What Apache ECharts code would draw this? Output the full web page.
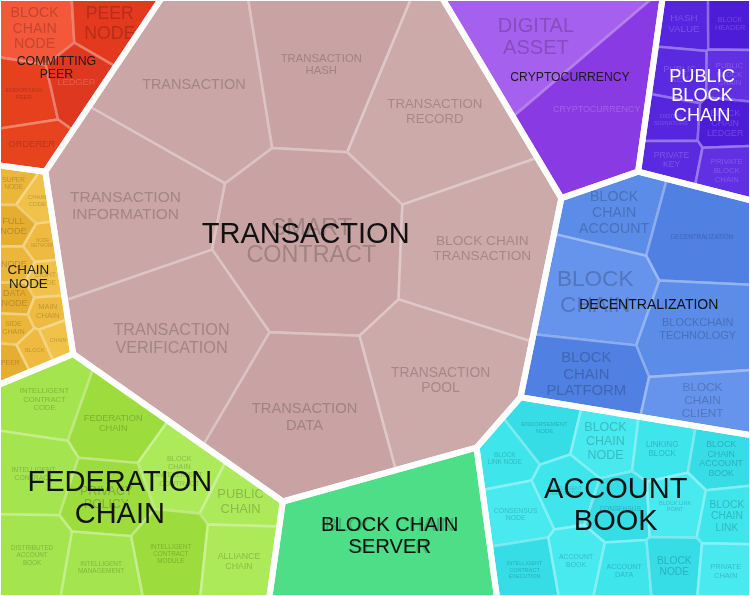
<!DOCTYPE html>
<html><head><meta charset="utf-8">
<script src="https://cdn.jsdelivr.net/npm/echarts/dist/echarts.min.js"></script>
<style>html,body{margin:0;padding:0;background:#fff}#chart{width:750px;height:596px}</style>
</head><body><div id="chart"></div>
<script>
// ---------------- DATA ----------------
const groupNames = ['COMMITTING\nPEER','CRYPTOCURRENCY','PUBLIC\nBLOCK\nCHAIN','CHAIN\nNODE','TRANSACTION','DECENTRALIZATION','FEDERATION\nCHAIN','BLOCK CHAIN\nSERVER','ACCOUNT\nBOOK'];

const committingPeerNames = ['BLOCK\nCHAIN\nNODE','PEER\nNODE','ENDORSING\nPEER','LEDGER','ORDERER'];
const committingPeerValues = [4, 3.5, 3, 3, 2.5];

const cryptocurrencyNames = ['DIGITAL\nASSET','CRYPTOCURRENCY'];
const cryptocurrencyValues = [11, 14];

const publicBlockChainNames = ['HASH\nVALUE','BLOCK\nHEADER','PUBLIC\nKEY','PUBLIC\nBLOCK\nCHAIN','DIGITAL\nSIGNATURE','BLOCK\nCHAIN\nLEDGER','PRIVATE\nKEY','PRIVATE\nBLOCK\nCHAIN'];
const publicBlockChainValues = [2.2, 2, 2.4, 2, 2, 2.2, 2, 2.2];

const chainNodeNames = ['SUPER\nNODE','CHAIN\nCODE','FULL\nNODE','NODE\nNETWORK','NODE','LIGHT\nNODE','DATA\nNODE','MAIN\nCHAIN','SIDE\nCHAIN','CHAIN','PEER','BLOCK'];
const chainNodeValues = [1.0, 1.0, 1.1, 0.9, 1.0, 1.0, 0.9, 0.9, 0.8, 0.8, 0.8, 0.8];

const transactionNames = ['TRANSACTION','TRANSACTION\nHASH','TRANSACTION\nRECORD','TRANSACTION\nINFORMATION','SMART\nCONTRACT','BLOCK CHAIN\nTRANSACTION','TRANSACTION\nVERIFICATION','TRANSACTION\nDATA','TRANSACTION\nPOOL'];
const transactionValues = [19.5, 16, 19.5, 19.5, 25, 18.5, 20.5, 19.5, 17];

const decentralizationNames = ['BLOCK\nCHAIN\nACCOUNT','DECENTRALIZATION','BLOCK\nCHAIN','BLOCKCHAIN\nTECHNOLOGY','BLOCK\nCHAIN\nPLATFORM','BLOCK\nCHAIN\nCLIENT'];
const decentralizationValues = [5.5, 8, 9, 8.5, 7, 5];

const federationChainNames = ['INTELLIGENT\nCONTRACT\nCODE','FEDERATION\nCHAIN','BLOCK\nCHAIN\nINTELLIGENT\nCONTRACT','INTELLIGENT\nCONTRACT','PRIVACY\nPOLICY','PUBLIC\nCHAIN','DISTRIBUTED\nACCOUNT\nBOOK','INTELLIGENT\nCONTRACT\nMODULE','ALLIANCE\nCHAIN','INTELLIGENT\nMANAGEMENT'];
const federationChainValues = [5, 5, 4.5, 5, 5, 3, 5, 5, 4.5, 4];

const blockChainServerNames = ['BLOCK CHAIN\nSERVER'];
const blockChainServerValues = [23];

const accountBookNames = ['BLOCK\nLINK NODE','ENDORSEMENT\nNODE','BLOCK\nCHAIN\nNODE','LINKING\nBLOCK','BLOCK\nCHAIN\nACCOUNT\nBOOK','CONSENSUS\nNODE','INTELLIGENT\nVERIFICATION','CONSENSUS','BLOCK LINK\nPOINT','BLOCK\nCHAIN\nLINK','INTELLIGENT\nCONTRACT\nEXECUTION','ACCOUNT\nBOOK','ACCOUNT\nDATA','BLOCK\nNODE','PRIVATE\nCHAIN'];
const accountBookValues = [2.5, 3, 3.2, 2.8, 3, 3, 3, 3.2, 2.8, 2.5, 3, 2.8, 2.5, 2.7, 2.5];

const childNames = [committingPeerNames, cryptocurrencyNames, publicBlockChainNames, chainNodeNames, transactionNames, decentralizationNames, federationChainNames, blockChainServerNames, accountBookNames];
const childValues = [committingPeerValues, cryptocurrencyValues, publicBlockChainValues, chainNodeValues, transactionValues, decentralizationValues, federationChainValues, blockChainServerValues, accountBookValues];
const groupValues = childValues.map(v => v.reduce((a, b) => a + b, 0));

// ---------------- STYLE ----------------
const groupFills = [
  ['#f4583a','#e33a1f','#e6401f','#de3820','#e8431f'],
  ['#a660ee','#8a3ae2'],
  ['#5526de','#4c1cd8','#5a2ae0','#6030e2'],
  ['#ebb63a','#f0c24a','#e6ae30','#eebb40'],
  ['#caa6a6','#c9a3a3','#cdaaaa'],
  ['#5b8ce8','#4f80e2','#6694ec'],
  ['#a4e44e','#9cdc3c','#acea5a'],
  ['#4ede88'],
  ['#3ee6ec','#36dde6','#48eaf0']
];
const groupLabelColors = ['#1a1a1a','#1a1a1a','#ffffff','#1a1a1a','#111111','#111111','#111111','#111111','#111111'];
const FONT = '"Liberation Sans", Arial, Helvetica, sans-serif';

// ---------------- GEOMETRY (weighted Voronoi treemap) ----------------
function clip(poly, a0, a1, b) {
  const out = [];
  for (let k = 0; k < poly.length; k++) {
    const p = poly[k], q = poly[(k + 1) % poly.length];
    const fp = a0 * p[0] + a1 * p[1] - b, fq = a0 * q[0] + a1 * q[1] - b;
    if (fp <= 0) out.push(p);
    if ((fp <= 0) !== (fq <= 0)) {
      const t = fp / (fp - fq);
      out.push([p[0] + t * (q[0] - p[0]), p[1] + t * (q[1] - p[1])]);
    }
  }
  return out;
}
function powerCells(sites, w, cont) {
  return sites.map((s, i) => {
    let poly = cont;
    for (let j = 0; j < sites.length && poly.length >= 3; j++) {
      if (j === i) continue;
      const t = sites[j];
      poly = clip(poly, 2 * (t[0] - s[0]), 2 * (t[1] - s[1]),
        t[0] * t[0] + t[1] * t[1] - s[0] * s[0] - s[1] * s[1] - w[j] + w[i]);
    }
    return poly;
  });
}
function area(poly) {
  let a = 0;
  for (let k = 0; k < poly.length; k++) { const p = poly[k], q = poly[(k + 1) % poly.length]; a += p[0] * q[1] - q[0] * p[1]; }
  return Math.abs(a) / 2;
}
function centroid(poly) {
  let a = 0, cx = 0, cy = 0;
  for (let k = 0; k < poly.length; k++) {
    const p = poly[k], q = poly[(k + 1) % poly.length];
    const c = p[0] * q[1] - q[0] * p[1];
    a += c; cx += (p[0] + q[0]) * c; cy += (p[1] + q[1]) * c;
  }
  if (Math.abs(a) < 1e-9) return poly[0];
  return [cx / (3 * a), cy / (3 * a)];
}
function inside(poly, pt) {
  let c = false;
  for (let i = 0, j = poly.length - 1; i < poly.length; j = i++) {
    const a = poly[i], b = poly[j];
    if ((a[1] > pt[1]) !== (b[1] > pt[1]) && pt[0] < (b[0] - a[0]) * (pt[1] - a[1]) / (b[1] - a[1]) + a[0]) c = !c;
  }
  return c;
}
function gridSeeds(poly, n) {
  const xs = poly.map(p => p[0]), ys = poly.map(p => p[1]);
  const bx = Math.min(...xs), by = Math.min(...ys), bw = Math.max(...xs) - bx, bh = Math.max(...ys) - by;
  const cols = Math.max(1, Math.round(Math.sqrt(n * bw / bh)));
  const rows = Math.ceil(n / cols);
  const C = centroid(poly);
  const seeds = [];
  for (let k = 0; k < n; k++) {
    const r = Math.floor(k / cols), c = k % cols;
    const inRow = r === rows - 1 ? n - r * cols : cols;
    let p = [bx + (c + 0.5) / inRow * bw, by + (r + 0.5) / rows * bh];
    let guard = 0;
    while (!inside(poly, p) && guard++ < 60) p = [C[0] + (p[0] - C[0]) * 0.9, C[1] + (p[1] - C[1]) * 0.9];
    p = [C[0] + (p[0] - C[0]) * 0.9, C[1] + (p[1] - C[1]) * 0.9];
    seeds.push(p);
  }
  return seeds;
}
function fixOverweight(sites, w) {
  const n = sites.length; let fixed, guard = 0;
  do {
    fixed = false;
    outer: for (let i = 0; i < n; i++) for (let j = i + 1; j < n; j++) {
      let hi = i, lo = j; if (w[j] > w[i]) { hi = j; lo = i; }
      const dx = sites[i][0] - sites[j][0], dy = sites[i][1] - sites[j][1], d2 = dx * dx + dy * dy;
      if (d2 < w[hi] - w[lo]) { w[hi] = w[lo] + 0.95 * d2; fixed = true; break outer; }
    }
  } while (fixed && ++guard < 20000);
}
function voronoiMap(cont, values) {
  const n = values.length;
  if (n === 1) return [cont];
  const A = area(cont), tot = values.reduce((a, b) => a + b, 0);
  const target = values.map(v => v / tot * A);
  let sites = gridSeeds(cont, n);
  const w = new Array(n).fill(A / n / 4);
  let cells;
  for (let it = 0; it < 500; it++) {
    cells = powerCells(sites, w, cont);
    sites = cells.map((c, i) => c.length >= 3 ? centroid(c) : sites[i]);
    fixOverweight(sites, w);
    cells = powerCells(sites, w, cont);
    const f = it < 100 ? 0.4 : 0.15;
    for (let i = 0; i < n; i++) {
      const a = cells[i].length >= 3 ? area(cells[i]) : 1e-6;
      let r = target[i] / Math.max(a, 1e-6);
      r = Math.min(1 + f, Math.max(1 - f, r));
      w[i] = Math.max(w[i] * r, 1);
    }
    fixOverweight(sites, w);
  }
  return powerCells(sites, w, cont);
}

const W = 750, H = 596;
const frame = [[-2, -2], [W + 2, -2], [W + 2, H + 2], [-2, H + 2]];
const groupCells = voronoiMap(frame, groupValues);
const childCells = groupCells.map((cell, g) => voronoiMap(cell, childValues[g]));

// ---------------- HELPERS ----------------
function hexRgb(h) { return [parseInt(h.slice(1, 3), 16), parseInt(h.slice(3, 5), 16), parseInt(h.slice(5, 7), 16)]; }
function mix(h, t, k) { const a = hexRgb(h), b = hexRgb(t); return 'rgb(' + a.map((v, i) => Math.round(v + (b[i] - v) * k)).join(',') + ')'; }
function lum(h) { const a = hexRgb(h); return (0.2126 * a[0] + 0.7152 * a[1] + 0.0722 * a[2]) / 255; }
function chord(poly, v, axis) {
  const o = 1 - axis; let lo = Infinity, hi = -Infinity;
  for (let k = 0; k < poly.length; k++) {
    const p = poly[k], q = poly[(k + 1) % poly.length];
    if ((p[axis] - v) * (q[axis] - v) <= 0 && p[axis] !== q[axis]) {
      const t = (v - p[axis]) / (q[axis] - p[axis]); const x = p[o] + t * (q[o] - p[o]);
      lo = Math.min(lo, x); hi = Math.max(hi, x);
    }
  }
  return hi > lo ? hi - lo : 0;
}
function fitFont(pts, c, text, cap, k) {
  const lines = text.split('\n');
  const maxChars = Math.max(...lines.map(l => l.length));
  const fsW = k * chord(pts, c[1], 1) / (maxChars * 0.7);
  const fsH = 0.72 * chord(pts, c[0], 0) / (lines.length * 1.1);
  return Math.min(cap, fsW, fsH);
}

const flat = [];
childCells.forEach((cells, g) => cells.forEach((c, k) => flat.push([g, k])));

const chart = echarts.init(document.getElementById('chart'), null, { renderer: 'canvas' });
chart.setOption({
  animation: false,
  backgroundColor: '#ffffff',
  grid: { left: 0, right: 0, top: 0, bottom: 0 },
  xAxis: { type: 'value', min: 0, max: W, show: false },
  yAxis: { type: 'value', min: 0, max: H, inverse: true, show: false },
  series: [
    {
      type: 'custom', clip: false, silent: true, z: 2,
      data: flat.map((d, i) => [i, 0]),
      renderItem: function (params, api) {
        const [g, k] = flat[params.dataIndex];
        const pts = childCells[g][k].map(p => api.coord(p));
        const pal = groupFills[g];
        const fill = pal[k % pal.length];
        const c = centroid(pts);
        const name = childNames[g][k];
        const fs = fitFont(pts, c, name, 24, 0.7);
        const tcol = lum(fill) < 0.36 ? mix(fill, '#ffffff', 0.2) : mix(fill, '#000000', 0.2);
        const kids = [{ type: 'polygon', shape: { points: pts }, style: { fill: fill, stroke: mix(fill, '#ffffff', 0.35), lineWidth: 2.5, lineJoin: 'round' } }];
        if (fs >= 3) kids.push({ type: 'text', x: c[0], y: c[1], style: { text: name, fill: tcol, fontSize: fs, fontFamily: FONT, align: 'center', verticalAlign: 'middle', lineHeight: fs * 1.12 } });
        return { type: 'group', children: kids };
      }
    },
    {
      type: 'custom', clip: false, silent: true, z: 5,
      data: groupNames.map((n, i) => [i, 0]),
      renderItem: function (params, api) {
        const g = params.dataIndex;
        const pts = groupCells[g].map(p => api.coord(p));
        const c = centroid(pts);
        const fs = fitFont(pts, c, groupNames[g], 29, 0.74);
        return { type: 'group', children: [
          { type: 'polygon', shape: { points: pts }, style: { fill: 'none', stroke: '#ffffff', lineWidth: 6, lineJoin: 'round' } },
          { type: 'text', x: c[0], y: c[1], z2: 10, style: { text: groupNames[g], fill: groupLabelColors[g], fontSize: fs, fontFamily: FONT, align: 'center', verticalAlign: 'middle', lineHeight: fs * 1.08 } }
        ] };
      }
    }
  ]
});
</script></body></html>
